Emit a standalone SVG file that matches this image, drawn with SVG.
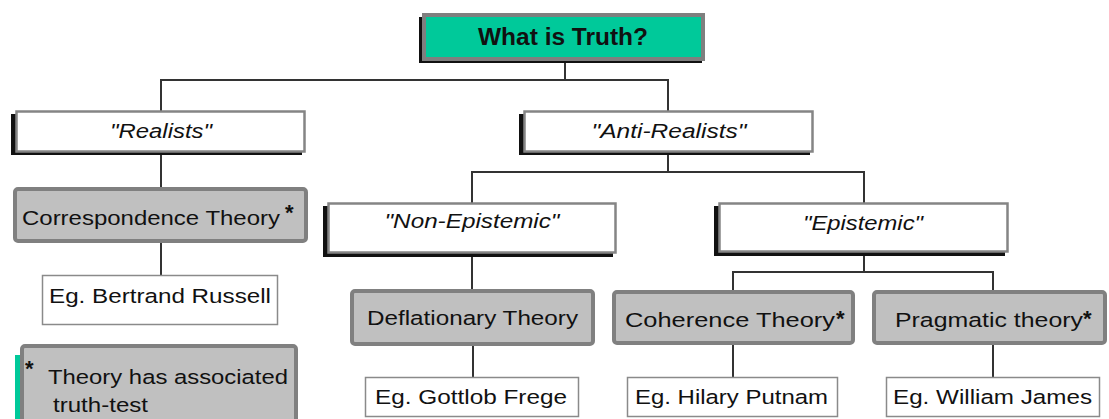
<svg xmlns="http://www.w3.org/2000/svg" width="1109" height="419" viewBox="0 0 1109 419">
<style>
  text { font-family: "Liberation Sans", Arial, sans-serif; fill: #111; }
  .title { font-size: 23px; font-weight: bold; }
  .lvl { font-size: 20px; font-style: italic; }
  .th { font-size: 20.5px; }
  .eg { font-size: 20.5px; }
  .ast { font-size: 22px; font-weight: bold; }
  .shadow { fill: #111; }
  .white { fill: #fff; stroke: #858585; stroke-width: 2.5; }
  .gray { fill: #c0c0c0; stroke: #808080; stroke-width: 4; }
  .leaf { fill: #fff; stroke: #8a8a8a; stroke-width: 1.5; }
  .conn line { stroke: #333; stroke-width: 2; }
</style>

<g id="connectors" class="conn">
  <line x1="565" y1="62" x2="565" y2="80"/>
  <line x1="160" y1="80" x2="669" y2="80"/>
  <line x1="161" y1="80" x2="161" y2="111"/>
  <line x1="668" y1="80" x2="668" y2="111"/>
  <line x1="161" y1="154" x2="161" y2="188"/>
  <line x1="161" y1="242" x2="161" y2="276"/>
  <line x1="668" y1="154" x2="668" y2="172"/>
  <line x1="471" y1="172" x2="865" y2="172"/>
  <line x1="472" y1="172" x2="472" y2="203"/>
  <line x1="864" y1="172" x2="864" y2="203"/>
  <line x1="472" y1="256" x2="472" y2="290"/>
  <line x1="473" y1="345" x2="473" y2="378"/>
  <line x1="864" y1="254" x2="864" y2="272"/>
  <line x1="732" y1="272" x2="994" y2="272"/>
  <line x1="733" y1="272" x2="733" y2="291"/>
  <line x1="993" y1="272" x2="993" y2="291"/>
  <line x1="733" y1="344" x2="733" y2="378"/>
  <line x1="993" y1="344" x2="993" y2="378"/>
</g>

<g id="node-truth">
  <rect class="shadow" x="419" y="17" width="283" height="46"/>
  <rect x="424" y="15" width="279" height="44" fill="#00c99a" stroke="#7f7f7f" stroke-width="4"/>
  <text class="title" x="563" y="45" text-anchor="middle" textLength="170" lengthAdjust="spacingAndGlyphs">What is Truth?</text>
</g>

<g id="node-realists">
  <rect class="shadow" x="11" y="114" width="291" height="41"/>
  <rect class="white" x="16.5" y="111.5" width="288" height="40"/>
  <text class="lvl" x="161" y="138" text-anchor="middle" textLength="102" lengthAdjust="spacingAndGlyphs">"Realists"</text>
</g>

<g id="node-antirealists">
  <rect class="shadow" x="519" y="114" width="291" height="41"/>
  <rect class="white" x="524.5" y="111.5" width="288" height="40"/>
  <text class="lvl" x="669" y="138" text-anchor="middle" textLength="155" lengthAdjust="spacingAndGlyphs">"Anti-Realists"</text>
</g>

<g id="node-nonepistemic">
  <rect class="shadow" x="323" y="206" width="290" height="51"/>
  <rect class="white" x="328.5" y="203.5" width="287" height="49"/>
  <text class="lvl" x="472" y="228" text-anchor="middle" textLength="175" lengthAdjust="spacingAndGlyphs">"Non-Epistemic"</text>
</g>

<g id="node-epistemic">
  <rect class="shadow" x="714" y="206" width="291" height="50"/>
  <rect class="white" x="719.5" y="203.5" width="288" height="48"/>
  <text class="lvl" x="863" y="230" text-anchor="middle" textLength="120" lengthAdjust="spacingAndGlyphs">"Epistemic"</text>
</g>

<g id="node-correspondence">
  <rect class="gray" x="15" y="189" width="291" height="52" rx="3"/>
  <text class="th" x="22" y="225" textLength="258" lengthAdjust="spacingAndGlyphs">Correspondence Theory</text>
  <text class="ast" x="285" y="220">*</text>
</g>

<g id="node-russell">
  <rect class="leaf" x="42.5" y="275.5" width="235" height="49"/>
  <text class="eg" x="49" y="303" textLength="222" lengthAdjust="spacingAndGlyphs">Eg. Bertrand Russell</text>
</g>

<g id="node-deflationary">
  <rect class="gray" x="352" y="291" width="241" height="53" rx="3"/>
  <text class="th" x="367" y="325" textLength="211" lengthAdjust="spacingAndGlyphs">Deflationary Theory</text>
</g>

<g id="node-frege">
  <rect class="leaf" x="365.5" y="377.5" width="213" height="39"/>
  <text class="eg" x="375" y="404" textLength="192" lengthAdjust="spacingAndGlyphs">Eg. Gottlob Frege</text>
</g>

<g id="node-coherence">
  <rect class="gray" x="614" y="292" width="239" height="51" rx="3"/>
  <text class="th" x="625" y="327" textLength="210" lengthAdjust="spacingAndGlyphs">Coherence Theory</text>
  <text class="ast" x="836" y="326">*</text>
</g>

<g id="node-putnam">
  <rect class="leaf" x="627.5" y="377.5" width="210" height="39"/>
  <text class="eg" x="635" y="404" textLength="193" lengthAdjust="spacingAndGlyphs">Eg. Hilary Putnam</text>
</g>

<g id="node-pragmatic">
  <rect class="gray" x="874" y="292" width="231" height="51" rx="3"/>
  <text class="th" x="895" y="327" textLength="188" lengthAdjust="spacingAndGlyphs">Pragmatic theory</text>
  <text class="ast" x="1083" y="326">*</text>
</g>

<g id="node-james">
  <rect class="leaf" x="886.5" y="377.5" width="213" height="39"/>
  <text class="eg" x="893" y="404" textLength="199" lengthAdjust="spacingAndGlyphs">Eg. William James</text>
</g>

<g id="node-legend">
  <rect x="15" y="355" width="5" height="70" fill="#00c99a"/>
  <rect class="gray" x="22" y="346" width="274" height="90" rx="3"/>
  <text class="ast" x="25" y="376">*</text>
  <text class="th" x="48" y="384" textLength="240" lengthAdjust="spacingAndGlyphs">Theory has associated</text>
  <text class="th" x="53" y="412" textLength="95" lengthAdjust="spacingAndGlyphs">truth-test</text>
</g>
</svg>
